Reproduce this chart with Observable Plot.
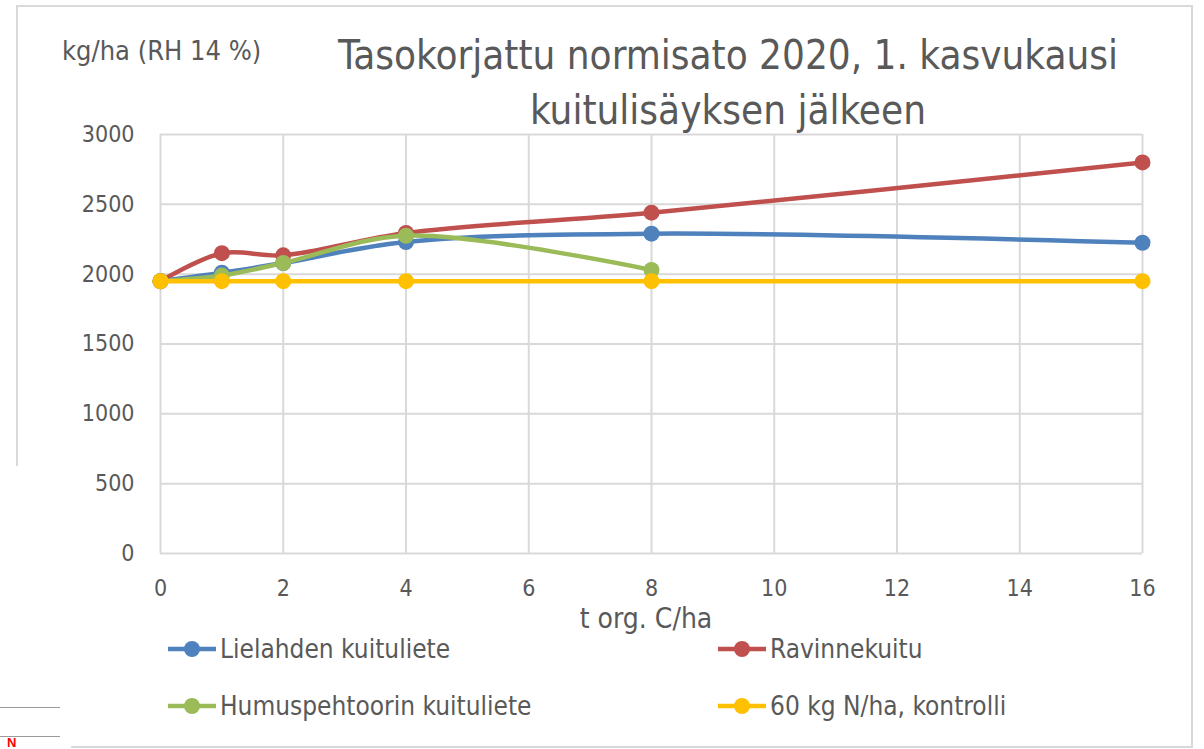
<!DOCTYPE html>
<html>
<head>
<meta charset="utf-8">
<script src="https://cdn.jsdelivr.net/npm/d3@7"></script>
<script src="https://cdn.jsdelivr.net/npm/@observablehq/plot@0.6"></script>
<style>
  html, body { margin: 0; padding: 0; background: #fff; }
  body { width: 1204px; height: 749px; position: relative; overflow: hidden;
         font-family: "Liberation Sans Narrow", "DejaVu Sans Condensed", "Open Sans", sans-serif; color: #595959; }
  .abs { position: absolute; white-space: nowrap; }
  #chart { position: absolute; left: 0; top: 0; }
  .legend-item { position: absolute; display: flex; align-items: center; font-size: 26px; color: #595959; }
  .legend-item svg { margin-right: 4px; }
</style>
</head>
<body>
<!-- chart frame -->
<div class="abs" style="left:16px; top:5px; width:1176px; height:0; border-top:2px solid #d9d9d9;"></div>
<div class="abs" style="left:16px; top:5px; width:0; height:461px; border-left:2px solid #d9d9d9;"></div>
<div class="abs" style="left:1191px; top:5px; width:0; height:743px; border-left:2px solid #d9d9d9;"></div>
<div class="abs" style="left:71px; top:746px; width:1122px; height:0; border-top:2px solid #d9d9d9;"></div>
<div class="abs" style="left:0px; top:707px; width:60px; height:0; border-top:1px solid #9a9a9a;"></div>
<div class="abs" style="left:0px; top:736px; width:60px; height:0; border-top:1px solid #9a9a9a;"></div>
<div class="abs" style="left:7px; top:736px; font-family:'Liberation Sans','DejaVu Sans',sans-serif; font-size:13px; color:#ff0000; font-weight:bold; line-height:13px;">N</div>

<div id="chart"></div>

<div class="abs" style="left:62px; top:35px; font-size:27px;">kg/ha (RH 14 %)</div>
<div class="abs" style="left:262px; width:932px; top:28px; text-align:center; font-size:40px; line-height:55px;">Tasokorjattu normisato 2020, 1. kasvukausi<br>kuitulisäyksen jälkeen</div>
<div class="abs" style="left:160px; width:972px; top:605px; text-align:center; font-size:28px; line-height:28px;">t org. C/ha</div>
<div id="legend"></div>

<script>
// ---- data ----
const doses = [0, 1, 2, 4, 8, 16];                 // t org. C/ha
const lielahden = [1950, 2010, 2080, 2230, 2290, 2225];
const ravinnekuitu = [1950, 2150, 2135, 2295, 2440, 2800];
const humusDoses = [0, 1, 2, 4, 8];
const humuspehtoori = [1950, 1990, 2080, 2275, 2030];
const kontrolli = [1950, 1950, 1950, 1950, 1950, 1950];

const seriesNames = ["Lielahden kuituliete", "Ravinnekuitu", "Humuspehtoorin kuituliete", "60 kg N/ha, kontrolli"];
const seriesColors = ["#4f81bd", "#c0504d", "#9bbb59", "#ffc000"];
const xTicks = [0, 2, 4, 6, 8, 10, 12, 14, 16];
const yTicks = [0, 500, 1000, 1500, 2000, 2500, 3000];

const toRows = (name, xs, ys) => xs.map((x, i) => ({series: name, x, y: ys[i]}));
const seriesData = [
  toRows(seriesNames[0], doses, lielahden),
  toRows(seriesNames[1], doses, ravinnekuitu),
  toRows(seriesNames[2], humusDoses, humuspehtoori),
  toRows(seriesNames[3], doses, kontrolli)
];

const marks = [
  Plot.gridX(xTicks, {stroke: "#d9d9d9", strokeOpacity: 1, strokeWidth: 2}),
  Plot.gridY(yTicks, {stroke: "#d9d9d9", strokeOpacity: 1, strokeWidth: 2}),
  Plot.axisX(xTicks, {tickSize: 0, tickPadding: 26, fontSize: 23, fill: "#595959", label: null, tickFormat: d => String(d)}),
  Plot.axisY(yTicks, {tickSize: 0, tickPadding: 26, fontSize: 23, fill: "#595959", label: null, tickFormat: d => String(d)})
];
seriesData.forEach((rows, i) => {
  marks.push(Plot.line(rows, {x: "x", y: "y", stroke: seriesColors[i], strokeWidth: 4.5, curve: "catmull-rom"}));
  marks.push(Plot.dot(rows, {x: "x", y: "y", fill: seriesColors[i], r: 8, stroke: "none"}));
});

const chart = Plot.plot({
  width: 1204,
  height: 749,
  marginLeft: 160,
  marginRight: 62,
  marginTop: 134,
  marginBottom: 196,
  style: {fontFamily: "'Liberation Sans Narrow', 'DejaVu Sans Condensed', sans-serif", background: "transparent", color: "#595959"},
  x: {domain: [0, 16]},
  y: {domain: [0, 3000]},
  marks
});
document.getElementById("chart").appendChild(chart);

// ---- legend ----
const legendPos = [[168, 634], [718, 634], [168, 691], [718, 691]];
const legend = document.getElementById("legend");
seriesNames.forEach((name, i) => {
  const item = document.createElement("div");
  item.className = "legend-item";
  item.style.left = legendPos[i][0] + "px";
  item.style.top = legendPos[i][1] + "px";
  item.innerHTML = `<svg width="48" height="30"><line x1="0" y1="15" x2="48" y2="15" stroke="${seriesColors[i]}" stroke-width="4.5"/><circle cx="24" cy="15" r="8" fill="${seriesColors[i]}"/></svg><span>${name}</span>`;
  legend.appendChild(item);
});
</script>
</body>
</html>
